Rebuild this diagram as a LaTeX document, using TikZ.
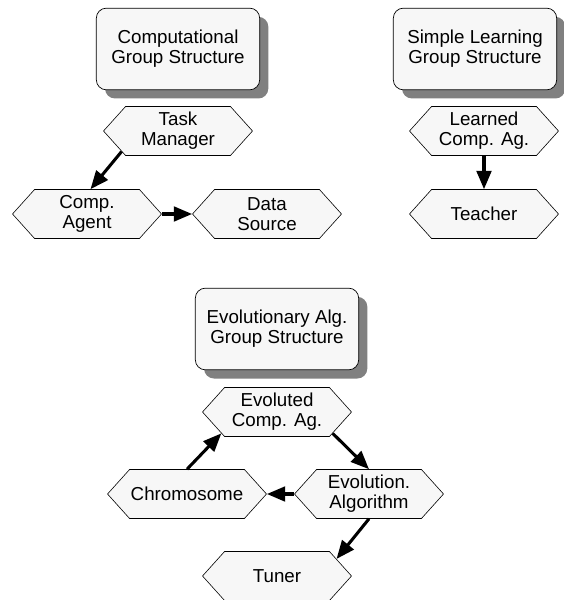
\documentclass[tikz,border=0pt]{standalone}
\usepackage{fontspec}
\setmainfont{Liberation Sans}
\usetikzlibrary{shapes.symbols,shadows,arrows.meta}

\begin{document}
\begin{tikzpicture}[x=0.03cm, y=-0.03cm,
    font=\fontsize{16}{17}\selectfont,
    group/.style={draw, rounded corners=0.3cm, fill=black!3, align=center,
        minimum width=4.9cm, minimum height=2.45cm, line width=0.6pt,
        drop shadow={shadow xshift=0.26cm, shadow yshift=-0.26cm, fill=black!50, opacity=1}},
    agent/.style={draw, signal, signal to=west and east, signal pointer angle=96,
        fill=black!3, align=center, minimum width=4.47cm, minimum height=1.47cm,
        inner sep=1pt, line width=0.5pt},
    link/.style={line width=2.6pt, -{Triangle[length=0.55cm, width=0.44cm]}}]
    \useasboundingbox (0,0) rectangle (563,600);

    % Group structures
    \node[group] (compgroup) at (178,49) {Computational\\Group Structure};
    \node[group] (learngroup) at (475,49) {Simple Learning\\Group Structure};
    \node[group] (evogroup) at (277,329) {Evolutionary Alg.\\Group Structure};

    % Agents
    \node[agent] (taskmgr) at (178,131) {Task\\Manager};
    \node[agent] (compagent) at (87,214) {Comp.\\Agent};
    \node[agent] (datasrc) at (267,214) {Data\\Source};

    \node[agent] (learned) at (484,131) {Learned\\Comp. Ag.};
    \node[agent] (teacher) at (484,214) {Teacher};

    \node[agent] (evoluted) at (277,412) {Evoluted\\Comp. Ag.};
    \node[agent] (chromo) at (187,494) {Chromosome};
    \node[agent] (evoalg) at (369,494) {Evolution.\\Algorithm};
    \node[agent] (tuner) at (277,576) {Tuner};

    % Links
    \draw[link] (taskmgr.-160) -- (compagent.82);
    \draw[link] (compagent.east) -- (datasrc.west);
    \draw[link] (learned.south) -- (teacher.north);
    \draw[link] (chromo.north) -- (evoluted.-159);
    \draw[link] (evoluted.-21) -- (evoalg.north);
    \draw[link] (evoalg.west) -- (chromo.east);
    \draw[link] (evoalg.south) -- (tuner.16);

\end{tikzpicture}
\end{document}
